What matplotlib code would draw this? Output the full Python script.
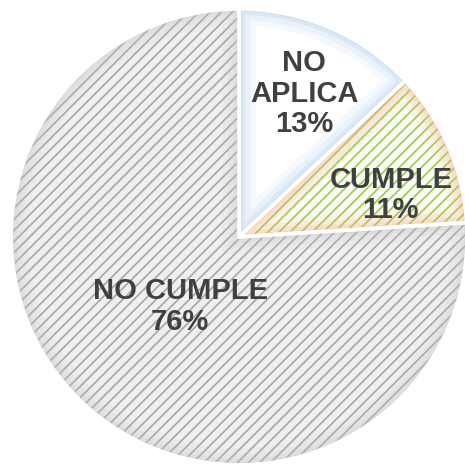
import matplotlib.pyplot as plt
from matplotlib.patches import Wedge
import numpy as np

# slices, clockwise from 12 o'clock
labels = ['NO\nAPLICA', 'CUMPLE', 'NO CUMPLE']
values = [13, 11, 76]

face_colors = ['#ffffff', '#fefaf5', '#efefef']
hatch_colors = [None, '#92d050', '#a6a6a6']
glow_colors = ['#9dc3e6', '#f4b183', '#c4c4c4']

plt.rcParams['font.family'] = ['Liberation Sans', 'DejaVu Sans']
plt.rcParams['hatch.linewidth'] = 1.2

fig = plt.figure(figsize=(4.65, 4.65), dpi=100)
ax = fig.add_axes([0.0237, 0.0, 0.981, 0.981])

wedges, _ = ax.pie(values, startangle=90, counterclock=False, radius=1,
                   colors=face_colors, wedgeprops=dict(linewidth=0))

for w, hc, gc in zip(wedges, hatch_colors, glow_colors):
    c, r, t1, t2 = w.center, w.r, w.theta1, w.theta2
    if hc is not None:
        ax.add_patch(Wedge(c, r, t1, t2, facecolor='none', edgecolor=hc,
                           linewidth=0, hatch='///'))
    # soft inner glow along the slice edges
    for lw, a in [(24, 0.10), (16, 0.13), (9, 0.18), (4, 0.3)]:
        g = Wedge(c, r, t1, t2, facecolor='none', edgecolor=gc,
                  linewidth=lw, alpha=a)
        ax.add_patch(g)
        g.set_clip_path(w)
    # white separators
    ax.add_patch(Wedge(c, r, t1, t2, facecolor='none', edgecolor='white',
                       linewidth=2.8))

# label placement (fraction of radius, angle shift in degrees)
label_dist = [0.69, 0.69, 0.40]
label_shift = [-1, -8, 3]
for w, lab, v, d, s in zip(wedges, labels, values, label_dist, label_shift):
    ang = np.deg2rad((w.theta1 + w.theta2) / 2 + s)
    ax.text(d * np.cos(ang), d * np.sin(ang), f'{lab}\n{v}%',
            ha='center', va='center', fontsize=21, fontweight='bold',
            color='#404040', linespacing=1.12)

ax.set_xlim(-1, 1)
ax.set_ylim(-1, 1)
ax.set_aspect('equal')
ax.axis('off')

fig.savefig('out.png', dpi=100)
